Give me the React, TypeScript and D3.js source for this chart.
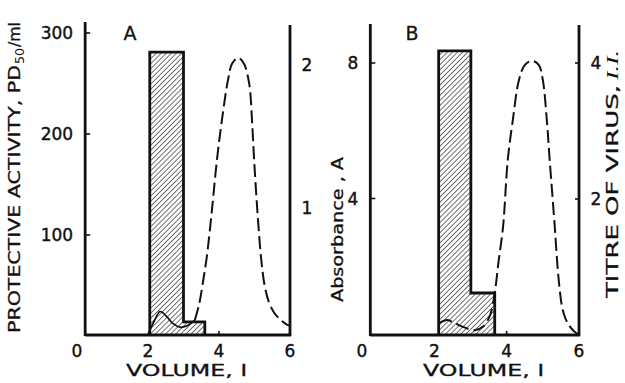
import React, { useEffect, useRef } from 'react';
import * as d3 from 'd3';

// volume (l) ticks shared by both panels
const volumeTicks = [0, 2, 4, 6];
const minorVolumeTicks = [4];

// panel A
const activityTicksA = [100, 200, 300];
const absorbanceTicksA = [1, 2];
const barsA = [
  { x0: 2.05, x1: 3.0, value: 281 },
  { x0: 3.0, x1: 3.6, value: 14 },
];
const absorbanceSolidA: [number, number][] = [
  [2.0, 0.11], [2.17, 0.2], [2.34, 0.27], [2.51, 0.24], [2.68, 0.19],
  [2.9, 0.16], [3.1, 0.17], [3.32, 0.21],
];
const absorbanceDashedA: [number, number][] = [
  [3.32, 0.21], [3.44, 0.32], [3.55, 0.48], [3.66, 0.66], [3.8, 0.98],
  [3.94, 1.33], [4.08, 1.61], [4.25, 1.89], [4.37, 2.01], [4.54, 2.05],
  [4.7, 2.01], [4.85, 1.87], [4.93, 1.61], [4.99, 1.33], [5.08, 0.98],
  [5.18, 0.66], [5.28, 0.46], [5.4, 0.34], [5.56, 0.26], [5.74, 0.21],
  [5.9, 0.18], [6.0, 0.17],
];

// panel B
const activityTicksB = [4, 8];
const titreTicksB = [2, 4];
const barsB = [
  { x0: 2.12, x1: 3.01, value: 8.36 },
  { x0: 3.01, x1: 3.67, value: 1.21 },
];
const titreDashedB: [number, number][] = [
  [2.15, 0.18], [2.35, 0.22], [2.51, 0.19], [2.79, 0.12], [3.12, 0.07],
  [3.34, 0.12], [3.54, 0.29], [3.67, 0.62], [3.78, 1.1], [3.9, 1.59],
  [4.03, 2.57], [4.17, 3.16], [4.34, 3.75], [4.5, 3.97], [4.7, 4.03],
  [4.89, 3.97], [5.0, 3.75], [5.11, 3.16], [5.19, 2.57], [5.33, 1.59],
  [5.4, 1.05], [5.46, 0.7], [5.53, 0.42], [5.62, 0.25], [5.74, 0.13],
  [5.87, 0.05], [6.0, 0.0],
];

const FONT = 'DejaVu Sans';
const BASE_Y = 335;

const App = () => {
  const svgRef = useRef(null);

  useEffect(() => {
    const svg = d3.select(svgRef.current);
    svg.selectAll('*').remove();

    svg.append('rect').attr('width', 625).attr('height', 383).attr('fill', '#fff');

    const defs = svg.append('defs');
    const pat = defs.append('pattern')
      .attr('id', 'hatch')
      .attr('patternUnits', 'userSpaceOnUse')
      .attr('width', 3.6)
      .attr('height', 3.6)
      .attr('patternTransform', 'rotate(45)');
    pat.append('line')
      .attr('x1', 0).attr('y1', 0).attr('x2', 0).attr('y2', 3.6)
      .attr('stroke', '#111').attr('stroke-width', 1.2);

    const drawPanel = (opts) => {
      const { x, yLeft, yRight, bars, leftTicks, rightTicks, rightTickMarks, topLeft, topRight, letter, letterX } = opts;
      const g = svg.append('g');
      const axisX = x(0.23);
      const xEnd = x(6);

      // hatched bars
      g.selectAll('rect.bar')
        .data(bars)
        .join('rect')
        .attr('class', 'bar')
        .attr('x', d => x(d.x0))
        .attr('width', d => x(d.x1) - x(d.x0))
        .attr('y', d => yLeft(d.value))
        .attr('height', d => BASE_Y - yLeft(d.value))
        .attr('fill', 'url(#hatch)');

      // step outline of bars
      const outline: [number, number][] = [[x(bars[0].x0), BASE_Y]];
      bars.forEach(b => {
        outline.push([x(b.x0), yLeft(b.value)]);
        outline.push([x(b.x1), yLeft(b.value)]);
      });
      outline.push([x(bars[bars.length - 1].x1), BASE_Y]);
      g.append('path')
        .attr('d', d3.line()(outline))
        .attr('fill', 'none')
        .attr('stroke', '#111')
        .attr('stroke-width', 2.8)
        .attr('stroke-linejoin', 'miter');

      // curves
      const line = d3.line<[number, number]>()
        .x(d => x(d[0]))
        .y(d => yRight(d[1]))
        .curve(d3.curveCatmullRom.alpha(0.5));
      if (opts.solid) {
        g.append('path')
          .attr('d', line(opts.solid))
          .attr('fill', 'none')
          .attr('stroke', '#111')
          .attr('stroke-width', 1.7);
      }
      g.append('path')
        .attr('d', line(opts.dashed))
        .attr('fill', 'none')
        .attr('stroke', '#111')
        .attr('stroke-width', 2)
        .attr('stroke-dasharray', '13,5');

      // axes
      const axisStyle = sel => sel.attr('stroke', '#111').attr('stroke-width', 2.8);
      g.append('line').attr('x1', axisX).attr('x2', xEnd + 1).attr('y1', BASE_Y).attr('y2', BASE_Y).call(axisStyle);
      g.append('line').attr('x1', axisX).attr('x2', axisX).attr('y1', BASE_Y + 1).attr('y2', topLeft).call(axisStyle);
      g.append('line').attr('x1', xEnd).attr('x2', xEnd).attr('y1', BASE_Y + 1).attr('y2', topRight).call(axisStyle);

      // ticks
      g.selectAll('line.lt')
        .data(leftTicks)
        .join('line')
        .attr('class', 'lt')
        .attr('x1', axisX).attr('x2', axisX + 5)
        .attr('y1', d => yLeft(d)).attr('y2', d => yLeft(d))
        .attr('stroke', '#111').attr('stroke-width', 1.6);
      if (rightTickMarks) {
        g.selectAll('line.rt')
          .data(rightTicks)
          .join('line')
          .attr('class', 'rt')
          .attr('x1', xEnd).attr('x2', xEnd - 4)
          .attr('y1', d => yRight(d)).attr('y2', d => yRight(d))
          .attr('stroke', '#111').attr('stroke-width', 1.6);
      }
      g.selectAll('line.bt')
        .data(minorVolumeTicks)
        .join('line')
        .attr('class', 'bt')
        .attr('x1', d => x(d)).attr('x2', d => x(d))
        .attr('y1', BASE_Y).attr('y2', BASE_Y - 4)
        .attr('stroke', '#111').attr('stroke-width', 1.6);

      // tick labels
      const label = sel => sel
        .attr('font-family', FONT)
        .attr('font-size', 17)
        .attr('fill', '#111')
        .attr('stroke', '#111')
        .attr('stroke-width', 0.4);
      g.selectAll('text.xl')
        .data(volumeTicks)
        .join('text')
        .attr('class', 'xl')
        .attr('x', d => x(d))
        .attr('y', 357)
        .attr('text-anchor', 'middle')
        .text(d => d)
        .call(label);
      g.selectAll('text.yl')
        .data(leftTicks)
        .join('text')
        .attr('class', 'yl')
        .attr('x', axisX - 12)
        .attr('y', d => yLeft(d))
        .attr('dy', '0.36em')
        .attr('text-anchor', 'end')
        .text(d => d)
        .call(label);
      g.selectAll('text.rl')
        .data(rightTicks)
        .join('text')
        .attr('class', 'rl')
        .attr('x', opts.rightLabelX)
        .attr('y', d => yRight(d))
        .attr('dy', '0.36em')
        .attr('text-anchor', 'middle')
        .text(d => d)
        .call(label);

      g.append('text')
        .attr('x', letterX)
        .attr('y', 40)
        .attr('text-anchor', 'middle')
        .attr('font-family', FONT)
        .attr('font-size', 19)
        .attr('fill', '#111')
        .attr('stroke', '#111')
        .attr('stroke-width', 0.3)
        .text(letter);

      // x title
      g.append('text')
        .attr('x', opts.volumeX)
        .attr('y', 376)
        .attr('font-family', FONT)
        .attr('font-size', 15)
        .attr('fill', '#111')
        .attr('stroke', '#111')
        .attr('stroke-width', 0.3)
        .attr('textLength', 121)
        .attr('lengthAdjust', 'spacingAndGlyphs')
        .text('VOLUME,  l');
    };

    const xA = d3.scaleLinear().domain([0, 6]).range([77, 290]);
    drawPanel({
      x: xA,
      yLeft: d3.scaleLinear().domain([0, 300]).range([336, 33]),
      yRight: d3.scaleLinear().domain([0, 2]).range([350, 65]),
      bars: barsA,
      leftTicks: activityTicksA,
      rightTicks: absorbanceTicksA,
      rightTickMarks: false,
      rightLabelX: 307,
      topLeft: 22,
      topRight: 25,
      letter: 'A',
      letterX: 130,
      solid: absorbanceSolidA,
      dashed: absorbanceDashedA,
      volumeX: 126,
    });

    const xB = d3.scaleLinear().domain([0, 6]).range([362, 579]);
    drawPanel({
      x: xB,
      yLeft: d3.scaleLinear().domain([0, 8]).range([334, 63]),
      yRight: d3.scaleLinear().domain([0, 4]).range([335, 63]),
      bars: barsB,
      leftTicks: activityTicksB,
      rightTicks: titreTicksB,
      rightTickMarks: true,
      rightLabelX: 596,
      topLeft: 24,
      topRight: 25,
      letter: 'B',
      letterX: 412,
      dashed: titreDashedB,
      volumeX: 423,
    });

    // axis titles
    const title = (x, y, txt, len, size = 15) => svg.append('text')
      .attr('transform', `translate(${x},${y}) rotate(-90)`)
      .attr('font-family', FONT)
      .attr('font-size', size)
      .attr('fill', '#111')
      .attr('stroke', '#111')
      .attr('stroke-width', 0.3)
      .attr('textLength', len)
      .attr('lengthAdjust', 'spacingAndGlyphs')
      .text(txt);

    title(20, 333, 'PROTECTIVE  ACTIVITY,  PD', 268);
    svg.append('text')
      .attr('transform', 'translate(24,64) rotate(-90)')
      .attr('font-family', FONT)
      .attr('font-size', 12)
      .attr('fill', '#111')
      .attr('textLength', 16)
      .attr('lengthAdjust', 'spacingAndGlyphs')
      .text('50');
    title(20, 47, '/ml', 25);

    title(343, 302, 'Absorbance , A', 145, 16);

    title(618, 298, 'TITRE  OF  VIRUS,', 213, 16);
    svg.append('text')
      .attr('transform', 'translate(618,80) rotate(-90)')
      .attr('font-family', 'Liberation Serif')
      .attr('font-style', 'italic')
      .attr('font-size', 17)
      .attr('fill', '#111')
      .attr('textLength', 30)
      .attr('lengthAdjust', 'spacingAndGlyphs')
      .text('I.I.');
  }, []);

  return (
    <svg
      ref={svgRef}
      width={625}
      height={383}
      style={{ position: 'absolute', left: 0, top: 0 }}
    />
  );
};

export default App;
